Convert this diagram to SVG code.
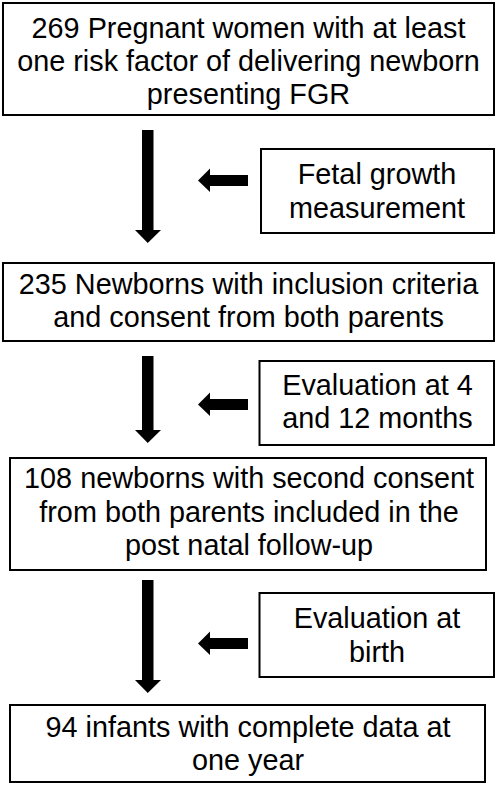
<svg xmlns="http://www.w3.org/2000/svg" width="498" height="786" viewBox="0 0 498 786">
<defs>
<style>
.box{fill:#fff;stroke:#000;stroke-width:2}
.t{font-family:"Liberation Sans",Arial,sans-serif;font-size:28.8px;fill:#000;text-anchor:middle}
.arr{fill:#000;stroke:none}
</style>
</defs>
<rect width="498" height="786" fill="#fff"/>
<g id="n1">
<rect class="box" x="3" y="3" width="491" height="112"/>
<text class="t" x="248.5" y="37.5">269 Pregnant women with at least</text>
<text class="t" x="248.5" y="71">one risk factor of delivering newborn</text>
<text class="t" x="248.5" y="104">presenting FGR</text>
</g>
<g id="s1">
<rect class="box" x="261" y="149" width="233" height="84"/>
<text class="t" x="377" y="184">Fetal growth</text>
<text class="t" x="377" y="218">measurement</text>
</g>
<g id="n2">
<rect class="box" x="3" y="263" width="491" height="78"/>
<text class="t" x="248.5" y="293.5">235 Newborns with inclusion criteria</text>
<text class="t" x="248.5" y="327">and consent from both parents</text>
</g>
<g id="s2">
<rect class="box" x="259.5" y="361" width="234.5" height="84"/>
<text class="t" x="377.5" y="395">Evaluation at 4</text>
<text class="t" x="377.5" y="428">and 12 months</text>
</g>
<g id="n3">
<rect class="box" x="10" y="458" width="476" height="112"/>
<text class="t" x="249" y="488">108 newborns with second consent</text>
<text class="t" x="249" y="522">from both parents included in the</text>
<text class="t" x="249" y="555">post natal follow-up</text>
</g>
<g id="s3">
<rect class="box" x="259.5" y="593" width="234.5" height="84"/>
<text class="t" x="377" y="628">Evaluation at</text>
<text class="t" x="377" y="662">birth</text>
</g>
<g id="n4">
<rect class="box" x="10" y="705" width="475" height="77"/>
<text class="t" x="248" y="737">94 infants with complete data at</text>
<text class="t" x="248" y="770">one year</text>
</g>
<g id="connectors">
<polygon class="arr" points="142,130 153.5,130 153.5,230 161,230 147.75,243 135,230 142,230"/>
<polygon class="arr" points="142,356 153.5,356 153.5,430 161,430 147.75,443 135,430 142,430"/>
<polygon class="arr" points="142,580 153.5,580 153.5,680 161,680 147.75,693 135,680 142,680"/>
<polygon class="arr" points="248,175 210,175 210,168.5 198,180.5 210,192 210,186 248,186"/>
<polygon class="arr" points="248,399 210,399 210,392.5 198,404.5 210,416 210,410 248,410"/>
<polygon class="arr" points="248,638 210,638 210,631.5 198,643.5 210,655 210,649 248,649"/>
</g>
</svg>
